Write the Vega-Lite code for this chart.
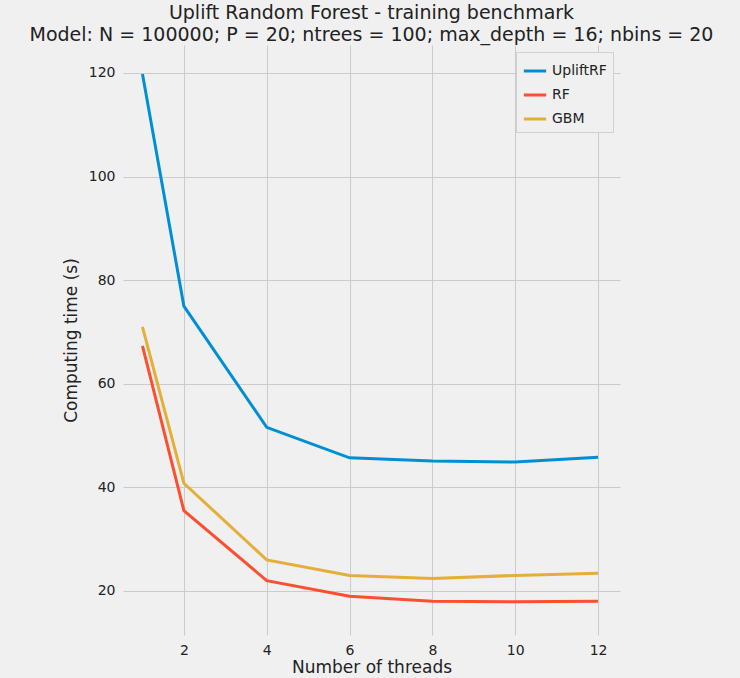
{
  "$schema": "https://vega.github.io/schema/vega-lite/v6.json",
  "width": 497,
  "height": 590,
  "autosize": {"type": "none"},
  "padding": {"left": 123, "top": 45, "right": 120, "bottom": 43},
  "background": "#f0f0f0",
  "title": {
    "text": ["Uplift Random Forest - training benchmark", "Model: N = 100000; P = 20; ntrees = 100;  max_depth = 16; nbins = 20"],
    "fontSize": 19,
    "fontWeight": "normal",
    "font": "DejaVu Sans",
    "color": "#222222",
    "anchor": "middle",
    "frame": "group",
    "offset": 0,
    "lineHeight": 22
  },
  "config": {
    "view": {"stroke": null, "fill": "#f0f0f0"},
    "font": "DejaVu Sans",
    "axis": {
      "domain": false, "ticks": false, "gridColor": "#cbcbcb", "gridWidth": 1,
      "labelFontSize": 14, "labelColor": "#222222", "titleFontSize": 17,
      "titleFontWeight": "normal", "titleColor": "#222222", "labelPadding": 8
    }
  },
  "data": {
    "values": [
      {"threads": 1, "time": 119.8, "model": "UpliftRF"},
      {"threads": 2, "time": 75, "model": "UpliftRF"},
      {"threads": 4, "time": 51.6, "model": "UpliftRF"},
      {"threads": 6, "time": 45.7, "model": "UpliftRF"},
      {"threads": 8, "time": 45.1, "model": "UpliftRF"},
      {"threads": 10, "time": 44.9, "model": "UpliftRF"},
      {"threads": 12, "time": 45.8, "model": "UpliftRF"},
      {"threads": 1, "time": 67.3, "model": "RF"},
      {"threads": 2, "time": 35.5, "model": "RF"},
      {"threads": 4, "time": 22, "model": "RF"},
      {"threads": 6, "time": 19, "model": "RF"},
      {"threads": 8, "time": 18, "model": "RF"},
      {"threads": 10, "time": 17.9, "model": "RF"},
      {"threads": 12, "time": 18, "model": "RF"},
      {"threads": 1, "time": 71, "model": "GBM"},
      {"threads": 2, "time": 40.8, "model": "GBM"},
      {"threads": 4, "time": 26, "model": "GBM"},
      {"threads": 6, "time": 23, "model": "GBM"},
      {"threads": 8, "time": 22.4, "model": "GBM"},
      {"threads": 10, "time": 23, "model": "GBM"},
      {"threads": 12, "time": 23.4, "model": "GBM"}
    ]
  },
  "mark": {"type": "line", "strokeWidth": 3, "clip": true},
  "encoding": {
    "x": {
      "field": "threads", "type": "quantitative", "title": "Number of threads",
      "scale": {"domain": [0.53, 12.53], "nice": false, "zero": false},
      "axis": {"values": [2, 4, 6, 8, 10, 12], "titlePadding": 2}
    },
    "y": {
      "field": "time", "type": "quantitative", "title": "Computing time (s)",
      "scale": {"domain": [11.5, 125.4], "nice": false, "zero": false},
      "axis": {"values": [20, 40, 60, 80, 100, 120], "titlePadding": 8}
    },
    "color": {
      "field": "model", "type": "nominal",
      "scale": {"domain": ["UpliftRF", "RF", "GBM"], "range": ["#008fd5", "#fc4f30", "#e5ae38"]},
      "legend": {
        "title": null, "orient": "top-right", "offset": 7,
        "symbolType": "stroke", "symbolStrokeWidth": 3, "symbolSize": 500,
        "labelFontSize": 14, "labelColor": "#222222",
        "fillColor": "#f0f0f0", "strokeColor": "#d0d0d0", "padding": 6, "rowPadding": 4
      }
    }
  }
}
